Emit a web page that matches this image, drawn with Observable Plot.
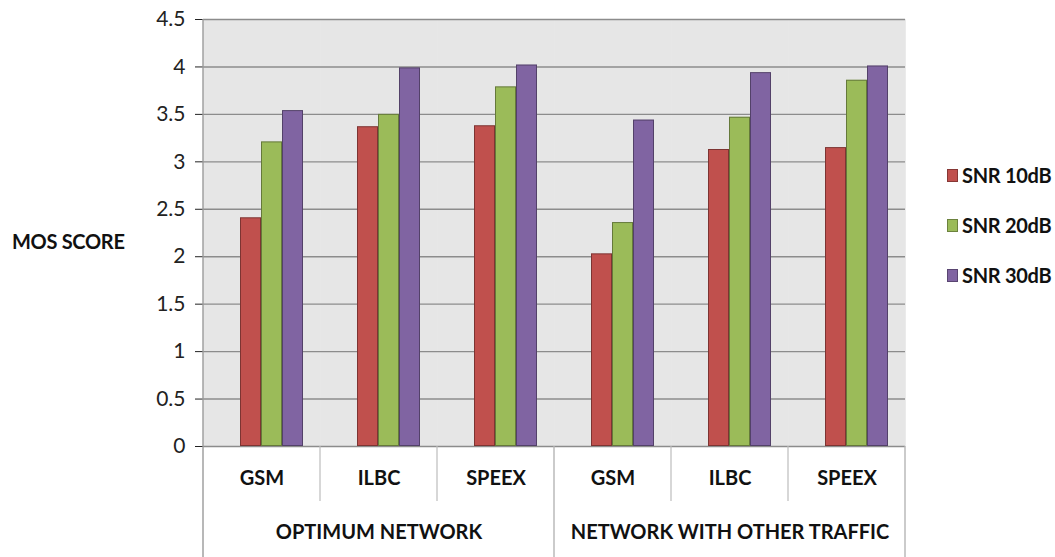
<!DOCTYPE html>
<html>
<head>
<meta charset="utf-8">
<script src="https://cdn.jsdelivr.net/npm/d3@7"></script>
<script src="https://cdn.jsdelivr.net/npm/@observablehq/plot@0.6"></script>
<style>
  html, body { margin: 0; padding: 0; background: #fff; }
  #wrap { position: relative; width: 1055px; height: 557px; font-family: Lato, "Open Sans", sans-serif; }
  #ylabel { position: absolute; left: 12px; top: 229px; font-size: 20px; font-weight: bold; color: #111; white-space: nowrap; letter-spacing: -0.3px; }
  #legend { position: absolute; left: 947px; top: 150px; }
  .li { display: flex; align-items: center; height: 50px; font-size: 20px; font-weight: bold; color: #111; white-space: nowrap; letter-spacing: -0.3px; }
  .sw { width: 11px; height: 13px; margin-right: 4px; box-sizing: border-box; }
</style>
</head>
<body>
<div id="wrap">
  <div id="chart"></div>
  <div id="ylabel">MOS SCORE</div>
  <div id="legend"></div>
</div>
<script>
const groups = ["OPTIMUM NETWORK", "NETWORK WITH OTHER TRAFFIC"];
const codecs = ["GSM", "ILBC", "SPEEX"];
const series = ["SNR 10dB", "SNR 20dB", "SNR 30dB"];
const snr10 = [2.41, 3.37, 3.38, 2.03, 3.13, 3.15];
const snr20 = [3.21, 3.50, 3.79, 2.36, 3.47, 3.86];
const snr30 = [3.54, 3.99, 4.02, 3.44, 3.94, 4.01];
const colors = ["#C0504D", "#9BBB59", "#8064A2"];
const yTicks = [0, 0.5, 1, 1.5, 2, 2.5, 3, 3.5, 4, 4.5];

const seriesValues = [snr10, snr20, snr30];
const cats = [];
groups.forEach((g, gi) => codecs.forEach((c, ci) => cats.push({key: g + "|" + c, group: g, codec: c, index: gi * 3 + ci})));
const keys = cats.map(d => d.key);
const data = [];
cats.forEach(c => series.forEach((s, si) => data.push({key: c.key, series: s, value: seriesValues[si][c.index]})));
const groupLabels = groups.map((g, gi) => ({key: keys[gi * 3 + 1], text: g}));

const font = 'Lato, "Open Sans", sans-serif';

const plot = Plot.plot({
  width: 1055,
  height: 557,
  marginLeft: 201,
  marginRight: 149,
  marginTop: 19,
  marginBottom: 111,
  style: {fontFamily: font, fontSize: "21px", color: "#222", background: "transparent", overflow: "visible"},
  fx: {domain: keys, padding: 0, axis: null, label: null},
  x: {domain: series, paddingInner: 0, paddingOuter: 1.2, axis: null},
  y: {domain: [0, 4.5], ticks: yTicks, tickSize: 8, tickPadding: 10, label: null, tickFormat: d => String(d)},
  color: {domain: series, range: colors},
  marks: [
    Plot.frame({fill: "#e6e6e6", stroke: "#e6e6e6", strokeWidth: 0.6}),
    Plot.gridY(yTicks, {stroke: "#8c8c8c", strokeOpacity: 1, strokeWidth: 1.4}),
    Plot.barY(data, {fx: "key", x: "series", y: "value", fill: "series", dx: 10}),
    Plot.barY(data, {fx: "key", x: "series", y: "value", fill: "none", stroke: "#000", strokeOpacity: 0.35, strokeWidth: 1, dx: 10, inset: 0.5}),
    Plot.text(cats, {fx: "key", text: "codec", frameAnchor: "bottom", dy: 38, fontWeight: "bold", fontSize: 20, fill: "#111"}),
    Plot.text(groupLabels, {fx: "key", text: "text", frameAnchor: "bottom", dy: 92, fontWeight: "bold", fontSize: 20, fill: "#111"})
  ]
});
document.getElementById("chart").appendChild(plot);

// category axis separators computed from the plot's own scales
const fx = plot.scale("fx");
const y = plot.scale("y");
const svg = d3.select(plot);
const y0 = y.apply(0);
const yTop = y.apply(4.5);
const H = 557;
const g = svg.append("g");
g.append("line").attr("x1", fx.apply(keys[0])).attr("x2", fx.apply(keys[0]))
  .attr("y1", yTop).attr("y2", H).attr("stroke", "#9a9a9a").attr("stroke-width", 1.4);
keys.forEach((k, i) => {
  if (i % 3 === 0) return;
  const xx = fx.apply(k);
  g.append("line").attr("x1", xx).attr("x2", xx).attr("y1", y0).attr("y2", y0 + 55)
    .attr("stroke", "#bdbdbd").attr("stroke-width", 1.2);
});
[fx.apply(keys[3]), fx.apply(keys[5]) + fx.bandwidth].forEach(xx => {
  g.append("line").attr("x1", xx).attr("x2", xx).attr("y1", y0).attr("y2", H)
    .attr("stroke", "#b5b5b5").attr("stroke-width", 1.4);
});

const legend = d3.select("#legend");
series.forEach((s, i) => {
  const row = legend.append("div").attr("class", "li");
  row.append("div").attr("class", "sw").style("background", colors[i]).style("border", "1px solid rgba(0,0,0,0.3)");
  row.append("span").text(s);
});
</script>
</body>
</html>
